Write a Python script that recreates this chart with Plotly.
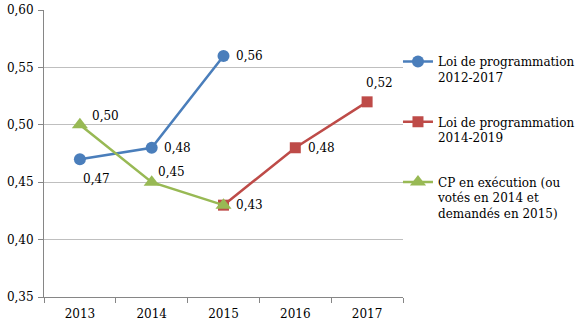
import plotly.graph_objects as go

years = ["2013", "2014", "2015", "2016", "2017"]
loi_2012_2017 = [0.47, 0.48, 0.56, None, None]
loi_2014_2019 = [None, None, 0.43, 0.48, 0.52]
cp_execution = [0.50, 0.45, 0.43, None, None]

names = ["Loi de programmation<br>2012-2017",
         "Loi de programmation<br>2014-2019",
         "CP en exécution (ou<br>votés en 2014 et<br>demandés en 2015)"]

# label offsets (pixels, x right / y up) for data labels; None = no label
offs_blue = [(17, -20), (26, 0), (26, 0), None, None]
offs_red = [None, None, None, (26, 0), (12, 19)]
offs_green = [(26, 9), (20, 10), (26, 0), None, None]

FONT = "'DejaVu Serif', serif"

fig = go.Figure()
series = [
    (loi_2012_2017, names[0], "#4A7EBB", "circle", 12, offs_blue),
    (loi_2014_2019, names[1], "#BE4B48", "square", 11, offs_red),
    (cp_execution, names[2], "#98B954", "triangle-up", 14, offs_green),
]
for i, (vals, nm, col, sym, sz, offs) in enumerate(series):
    fig.add_trace(go.Scatter(
        x=years, y=vals, name=nm, mode="lines+markers",
        line=dict(color=col, width=2.5),
        marker=dict(symbol=sym, size=sz, color=col),
        legendgroup=str(i), cliponaxis=False))
    for k, (v, o) in enumerate(zip(vals, offs)):
        if v is None or o is None:
            continue
        fig.add_annotation(x=k, y=v, xref="x", yref="y",
                           text=("%.2f" % v).replace(".", ","),
                           showarrow=False, xshift=o[0], yshift=o[1],
                           font=dict(family=FONT, size=12, color="black"))

fig.update_layout(
    width=576, height=336,
    margin=dict(l=44, r=173, t=10, b=39, autoexpand=False),
    paper_bgcolor="white", plot_bgcolor="white",
    separators=", ",
    font=dict(family=FONT, size=12, color="black"),
    showlegend=True,
    legend=dict(x=0.986, y=0.87, xanchor="left", yanchor="top",
                valign="top", tracegroupgap=26, itemwidth=30,
                font=dict(family=FONT, size=12, color="black"),
                bgcolor="rgba(0,0,0,0)"),
    xaxis=dict(type="category", showgrid=False, showline=True, linecolor="#868686",
               linewidth=1, ticks="outside", tickson="boundaries", ticklen=5,
               tickcolor="#868686", range=[-0.5, 4.5], automargin=False,
               ticklabelstandoff=6,
               tickfont=dict(family=FONT, size=12)),
    yaxis=dict(range=[0.35, 0.60], dtick=0.05, tickformat=".2f", showgrid=True,
               gridcolor="#BFBFBF", gridwidth=1, showline=True, linecolor="#868686",
               ticks="outside", ticklen=5, tickcolor="#868686", zeroline=False,
               automargin=False, ticklabelstandoff=2,
               tickfont=dict(family=FONT, size=12)),
)

fig.write_html("out.html")
